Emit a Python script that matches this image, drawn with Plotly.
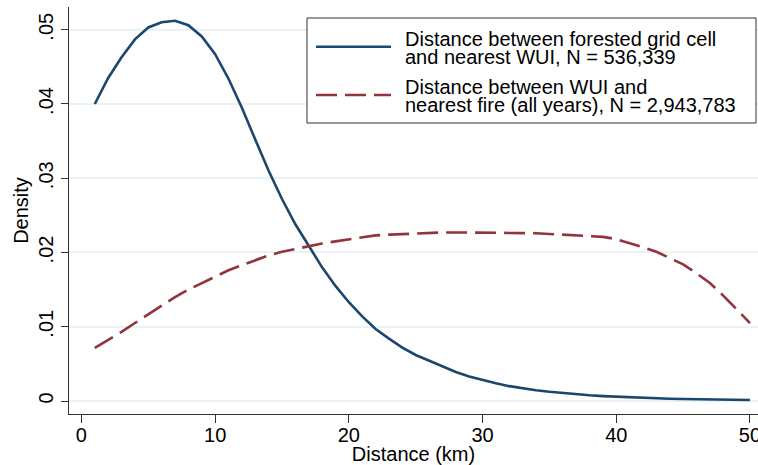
import plotly.graph_objects as go

# ---- data ----
distance_km = list(range(1, 51))
forest_to_wui = [
    0.0400, 0.0435, 0.0463, 0.0487, 0.0503, 0.0510, 0.0512, 0.0506, 0.0491, 0.0467,
    0.0434, 0.0395, 0.0352, 0.0310, 0.0272, 0.0238, 0.0209, 0.0180, 0.0155, 0.0133,
    0.0114, 0.0097, 0.0084, 0.0072, 0.0062, 0.0054, 0.0046, 0.0039, 0.0033, 0.0028,
    0.0024, 0.0020, 0.0017, 0.00145, 0.00124, 0.00106, 0.0009, 0.00077, 0.00066, 0.00057,
    0.00049, 0.00042, 0.00036, 0.00031, 0.00027, 0.00023, 0.0002, 0.00018, 0.00015, 0.00013,
]
wui_to_fire = [
    0.00717, 0.0082, 0.0093, 0.0105, 0.0117, 0.0129, 0.0140, 0.0150, 0.0159, 0.0168,
    0.0176, 0.0183, 0.0190, 0.0196, 0.0201, 0.0205, 0.0209, 0.0212, 0.0215, 0.0218,
    0.0221, 0.0223, 0.0224, 0.0225, 0.0226, 0.0226, 0.0227, 0.0227, 0.0227, 0.0227,
    0.0227, 0.0226, 0.0226, 0.0226, 0.0225, 0.0224, 0.0223, 0.0222, 0.0221, 0.0218,
    0.0213, 0.0207, 0.0201, 0.0193, 0.0184, 0.0172, 0.0159, 0.0142, 0.0124, 0.0105,
]
series_names = [
    ["Distance between forested grid cell", "and nearest WUI, N = 536,339"],
    ["Distance between WUI and", "nearest fire (all years), N = 2,943,783"],
]
x_ticks = [0, 10, 20, 30, 40, 50]
y_ticks = [0, 0.01, 0.02, 0.03, 0.04, 0.05]
y_ticklabels = ["0", ".01", ".02", ".03", ".04", ".05"]

# ---- style ----
W, H = 758, 465
ML, MR, MT, MB = 69, 0, 7, 51
PW, PH = W - ML - MR, H - MT - MB
FONT = "Liberation Sans, Arial, sans-serif"
BLUE = "#1a476f"
RED = "#90353b"
AXIS = "#333333"
GRID = "#eaf2f3"


def px_x(p):
    return (p - ML) / PW


def px_y(p):
    return (H - MB - p) / PH


fig = go.Figure()
fig.add_trace(go.Scatter(x=distance_km, y=forest_to_wui, mode="lines",
                         name=" ".join(series_names[0]), showlegend=False,
                         line=dict(color=BLUE, width=2.6)))
fig.add_trace(go.Scatter(x=distance_km, y=wui_to_fire, mode="lines",
                         name=" ".join(series_names[1]), showlegend=False,
                         line=dict(color=RED, width=2.6, dash="21px,8px")))

# manual legend (box, keys, text lines)
shapes = [dict(type="rect", xref="paper", yref="paper",
               x0=px_x(307), x1=px_x(756), y0=px_y(18), y1=px_y(123),
               line=dict(color=AXIS, width=1), fillcolor="white", layer="above")]
key_y = [46.7, 95]
key_style = [dict(color=BLUE, width=2.6), dict(color=RED, width=2.6, dash="21px,8px")]
for ky, st in zip(key_y, key_style):
    shapes.append(dict(type="line", xref="paper", yref="paper",
                       x0=px_x(316), x1=px_x(391), y0=px_y(ky), y1=px_y(ky),
                       line=st, layer="above"))
annotations = []
line_centers = [[38.7, 57.3], [87.3, 104.7]]
for lines, centers in zip(series_names, line_centers):
    for txt, cy in zip(lines, centers):
        annotations.append(dict(text=txt, xref="paper", yref="paper",
                                x=px_x(403), y=px_y(cy), xanchor="left", yanchor="middle",
                                showarrow=False, font=dict(family=FONT, size=20, color="black")))

fig.update_layout(
    template="none",
    width=W, height=H,
    margin=dict(l=ML, r=MR, t=MT, b=MB, pad=0),
    paper_bgcolor="white", plot_bgcolor="white",
    font=dict(family=FONT, size=20, color="black"),
    shapes=shapes, annotations=annotations,
)
fig.update_xaxes(
    automargin=False, ticklabeloverflow="allow", ticklabelstandoff=-5,
    range=[-0.93, 50.6], tickvals=x_ticks, ticks="outside", ticklen=8, tickwidth=1,
    tickcolor=AXIS, showline=True, linecolor=AXIS, linewidth=1, showgrid=False,
    zeroline=False, title=dict(text="Distance (km)", standoff=6, font=dict(size=20)),
    tickfont=dict(size=20),
)
fig.update_yaxes(
    automargin=False, ticklabeloverflow="allow",
    range=[-0.00175, 0.05306], tickvals=y_ticks, ticktext=y_ticklabels, tickangle=-90,
    ticks="outside", ticklen=7, tickwidth=1, tickcolor=AXIS, showline=True,
    linecolor=AXIS, linewidth=1, showgrid=True, gridcolor=GRID, gridwidth=1.5,
    zeroline=False, title=dict(text="Density", standoff=1, font=dict(size=20)),
    tickfont=dict(size=20),
)

fig.write_html("out.html")
